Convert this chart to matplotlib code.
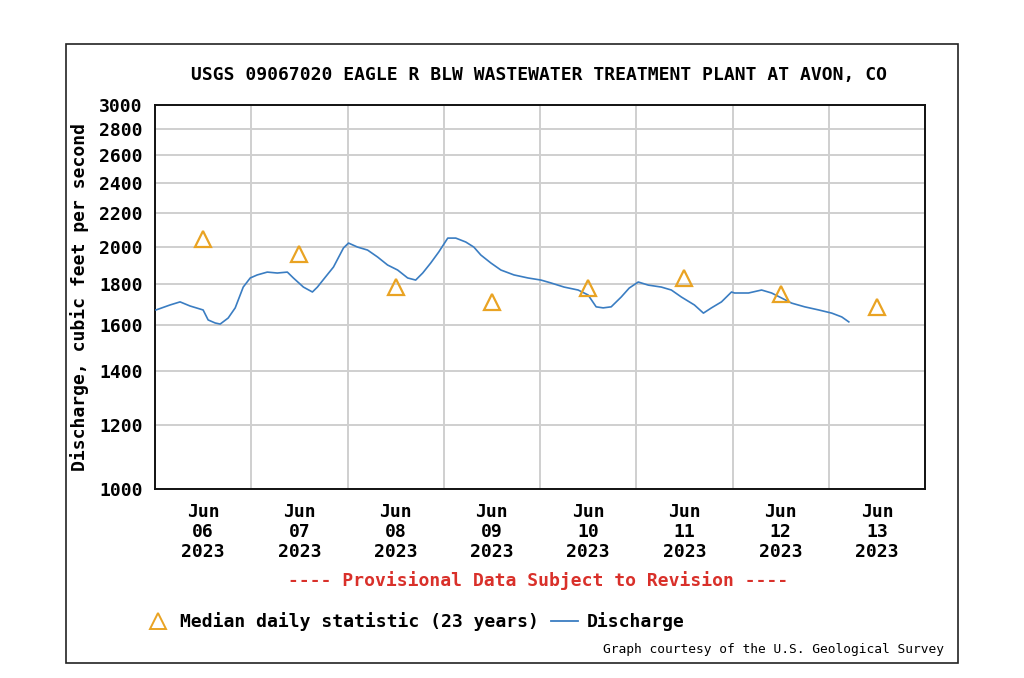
import matplotlib
matplotlib.use("Agg")
import matplotlib.pyplot as plt
import matplotlib.dates as mdates
import matplotlib.ticker as mticker
from matplotlib.patches import Rectangle
from matplotlib.lines import Line2D
import pandas as pd

# Discharge readings: hours since 2023-06-06 00:00, value in cfs
discharge_hours = [0.25, 3.75, 6.25, 8.75, 12, 13.25, 15, 16.25, 18.25, 20, 22, 23.75,
                   25.5, 28, 30.5, 33, 34.5, 37, 39.25, 40.5, 42.5, 44.5, 47, 48.25,
                   50.5, 53, 55.5, 58, 60.5, 63, 65, 66.75, 68.75, 70.75, 73, 75,
                   77.5, 79.5, 81.25, 83.75, 86.25, 89.5, 93, 96.25,
                   98.75, 102, 105.5, 108, 110, 111.75, 113.75, 116.25, 118.25, 120.5,
                   123, 126.25, 128.75, 131.25, 134.5, 136.75, 138.75, 141.25, 143.75,
                   144.5, 148, 151.25, 153.75, 156.25, 158.75, 162, 165.5, 168.75, 171.25, 173]
discharge_cfs = [1669, 1693, 1708, 1688, 1669, 1622, 1608, 1603, 1631, 1679, 1782, 1829,
                 1845, 1860, 1855, 1860, 1829, 1782, 1757, 1782, 1834, 1887, 1993, 2021,
                 1998, 1981, 1942, 1898, 1871, 1829, 1818, 1855, 1909, 1970, 2050, 2050,
                 2027, 1998, 1953, 1909, 1871, 1845, 1829, 1818,
                 1803, 1782, 1767, 1742, 1684, 1679, 1684, 1732, 1777, 1808,
                 1792, 1782, 1767, 1732, 1693, 1654, 1679, 1708, 1757,
                 1752, 1752, 1767, 1752, 1727, 1702, 1684, 1669, 1654, 1636, 1613]

median_days = ["2023-06-06", "2023-06-07", "2023-06-08", "2023-06-09",
               "2023-06-10", "2023-06-11", "2023-06-12", "2023-06-13"]
median_cfs = [2045, 1957, 1781, 1709, 1775, 1830, 1745, 1685]

y_ticks = [1000, 1200, 1400, 1600, 1800, 2000, 2200, 2400, 2600, 2800, 3000]

title = "USGS 09067020 EAGLE R BLW WASTEWATER TREATMENT PLANT AT AVON, CO"

FONT = "DejaVu Sans Mono"
FS = 13

start = pd.Timestamp("2023-06-06")
t_dis = [start + pd.Timedelta(hours=h) for h in discharge_hours]
t_med = [pd.Timestamp(d) + pd.Timedelta(hours=12) for d in median_days]

fig = plt.figure(figsize=(10.24, 6.78), dpi=100)
fig.patch.set_facecolor("white")
# outer frame
fig.patches.append(Rectangle((66/1024, 1-663/678), (958-66)/1024, (663-44)/678,
                             transform=fig.transFigure, fill=False,
                             edgecolor="#222222", linewidth=1.2))

ax = fig.add_axes([155/1024, 1-489/678, 770/1024, 384/678])
blue = "#3A7DC2"
orange = "#E9A323"
ax.plot(t_dis, discharge_cfs, color=blue, lw=1.2, zorder=3)
ax.plot(t_med, median_cfs, linestyle="none", marker="^", markersize=11,
        markerfacecolor="none", markeredgecolor=orange, markeredgewidth=1.6, zorder=4)

ax.set_yscale("log")
ax.set_ylim(1000, 3000)
ax.yaxis.set_major_locator(mticker.FixedLocator(y_ticks))
ax.yaxis.set_minor_locator(mticker.NullLocator())
ax.yaxis.set_major_formatter(mticker.FixedFormatter([str(v) for v in y_ticks]))

ax.set_xlim(start, start + pd.Timedelta(days=8))
ax.xaxis.set_major_locator(mticker.FixedLocator([mdates.date2num(t) for t in t_med]))
ax.xaxis.set_major_formatter(mticker.FixedFormatter(
    [t.strftime("%b\n%d\n%Y") for t in t_med]))
ax.xaxis.set_minor_locator(mdates.DayLocator())

ax.grid(False)
ax.grid(True, axis="y", which="major", color="#CFCFCF", lw=1.4, zorder=0)
ax.grid(True, axis="x", which="minor", color="#CFCFCF", lw=1.4, zorder=0)
ax.set_axisbelow(True)
ax.tick_params(which="both", length=0)
ax.tick_params(axis="y", pad=9)
ax.tick_params(axis="x", pad=10)
for lab in ax.get_yticklabels() + ax.get_xticklabels():
    lab.set_fontfamily(FONT)
    lab.set_fontweight("bold")
    lab.set_fontsize(FS)
for lab in ax.get_xticklabels():
    lab.set_linespacing(1.16)
    lab.set_ha("center")
for sp in ax.spines.values():
    sp.set_color("#111111")
    sp.set_linewidth(1.4)

ax.set_ylabel("Discharge, cubic feet per second", fontfamily=FONT,
              fontweight="bold", fontsize=FS, labelpad=7)

fig.text(539/1024, 1-75/678, title, ha="center", va="center",
         fontfamily=FONT, fontweight="bold", fontsize=FS)
fig.text(538/1024, 1-581/678, "---- Provisional Data Subject to Revision ----",
         ha="center", va="center", fontfamily=FONT, fontweight="bold",
         fontsize=FS, color="#D9302A")
fig.text(944/1024, 1-649/678, "Graph courtesy of the U.S. Geological Survey",
         ha="right", va="center", fontfamily=FONT, fontsize=9.3)

handles = [Line2D([], [], linestyle="none", marker="^", markersize=11,
                  markerfacecolor="none", markeredgecolor=orange, markeredgewidth=1.4),
           Line2D([], [], color=blue, lw=1.3)]
fig.legend(handles, ["Median daily statistic (23 years)", "Discharge"],
           loc="center left", bbox_to_anchor=(141/1024, 1-622/678), ncol=2,
           frameon=False, handlelength=1.5, handletextpad=0.45, columnspacing=0.7,
           borderpad=0.2, borderaxespad=0,
           prop={"family": FONT, "weight": "bold", "size": FS})

fig.savefig("out.png", dpi=100, facecolor="white")
